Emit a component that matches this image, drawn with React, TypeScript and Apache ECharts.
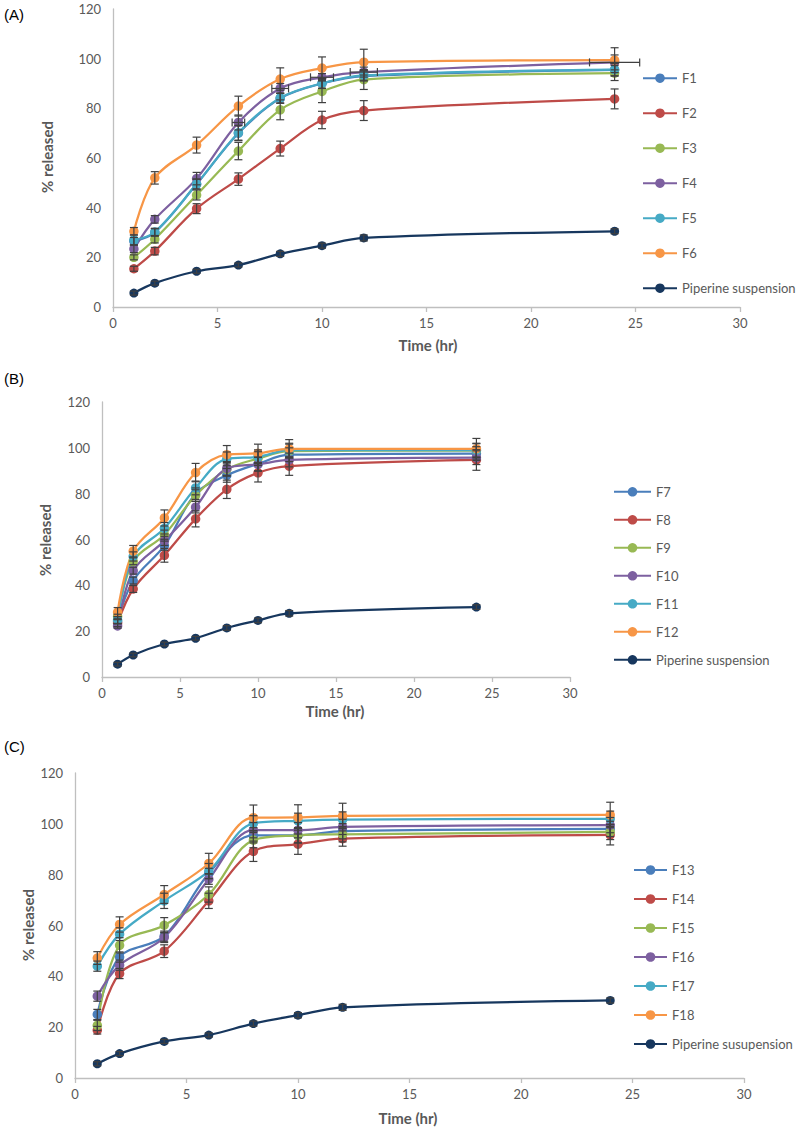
import React, { useEffect, useRef } from "react";
import * as echarts from "echarts";

const time = [1, 2, 4, 6, 8, 10, 12, 24];

// Panel A
const f1 = [26.5, 30.0, 49.5, 70.0, 84.0, 90.0, 93.0, 95.5];
const f2 = [15.4, 22.5, 39.6, 51.5, 63.8, 75.3, 79.1, 83.8];
const f3 = [20.0, 27.3, 45.1, 62.8, 79.4, 86.8, 91.6, 94.2];
const f4 = [23.4, 35.3, 51.7, 74.3, 88.0, 92.5, 94.6, 98.5];
const f5 = [27.0, 30.2, 49.5, 70.2, 84.2, 90.1, 93.3, 95.6];
const f6 = [30.5, 52.0, 65.2, 80.9, 91.8, 96.2, 98.6, 99.4];
const pipA = [5.6, 9.6, 14.4, 16.9, 21.4, 24.7, 27.8, 30.5];
const f1Err = [1.5, 1.5, 2, 3, 2, 2, 2, 2.5];
const f2Err = [1, 1.5, 2, 2.5, 3, 3.5, 4, 4];
const f3Err = [1, 1.5, 2, 3.5, 4, 4.5, 4, 3];
const f4Err = [1.5, 1.5, 2.5, 3, 2, 1.5, 2, 3];
const f4XErr = [0, 0, 0, 0.3, 0.4, 0.55, 0.65, 1.2];
const f5Err = [2, 1.5, 2, 3, 2, 2, 2, 2.5];
const f6Err = [1.5, 2.5, 3.2, 4, 4.5, 4.5, 5.2, 5];
const pipErr = [0.8, 0.8, 0.8, 0.8, 1, 1, 1.2, 1];

// Panel B
const f7 = [24.2, 42.1, 57.3, 80.0, 88.0, 93.0, 97.0, 97.5];
const f8 = [23.5, 38.4, 53.1, 69.0, 81.9, 89.1, 92.0, 94.7];
const f9 = [26.4, 50.5, 62.1, 79.2, 90.6, 95.3, 98.6, 98.8];
const f10 = [22.3, 46.4, 59.4, 74.1, 91.0, 92.8, 94.7, 95.7];
const f11 = [24.9, 52.6, 64.9, 82.5, 95.2, 96.1, 99.0, 99.0];
const f12 = [28.3, 54.9, 69.4, 89.2, 97.0, 97.6, 99.6, 99.6];
const pipB = [5.6, 9.6, 14.4, 16.9, 21.4, 24.7, 27.8, 30.5];
const f7Err = [1, 1.5, 2, 2.5, 3, 3, 3, 3];
const f8Err = [1.5, 1.5, 3, 3.5, 4, 4, 4, 4.5];
const f9Err = [1, 1.5, 2, 2.5, 3, 3, 3, 3];
const f10Err = [1, 1.5, 2, 2.5, 3, 3, 3, 3];
const f11Err = [1.5, 2, 2.5, 3, 3, 3, 3, 3];
const f12Err = [2, 2.5, 3.5, 4, 4, 4, 4, 4.5];

// Panel C
const f13 = [25.0, 47.6, 55.8, 80.5, 95.5, 95.5, 97.1, 98.0];
const f14 = [18.8, 41.1, 49.9, 69.7, 89.2, 92.0, 94.2, 95.7];
const f15 = [20.7, 52.2, 60.1, 72.2, 93.6, 95.5, 95.9, 96.8];
const f16 = [32.2, 44.4, 55.3, 78.2, 97.5, 97.5, 98.8, 99.5];
const f17 = [44.0, 56.6, 69.7, 81.4, 100.2, 101.2, 101.7, 102.0];
const f18 = [47.2, 60.4, 72.2, 84.4, 102.4, 102.5, 103.1, 103.5];
const pipC = [5.6, 9.6, 14.4, 16.9, 21.4, 24.7, 27.8, 30.5];
const f13Err = [2, 2, 2, 2, 3, 3, 3, 3];
const f14Err = [1.5, 2, 2.5, 3, 4, 4, 3, 4];
const f15Err = [2, 3, 3, 3, 3, 3, 3, 3];
const f16Err = [2, 2, 2, 2, 3, 3, 3, 3];
const f17Err = [2, 2.5, 3, 3, 3, 3, 3, 3];
const f18Err = [2.5, 3, 3.5, 4, 5, 5, 5, 5];

const namesA = ["F1", "F2", "F3", "F4", "F5", "F6", "Piperine suspension"];
const namesB = ["F7", "F8", "F9", "F10", "F11", "F12", "Piperine suspension"];
const namesC = ["F13", "F14", "F15", "F16", "F17", "F18", "Piperine susupension"];

const colors = ["#4A7EBB", "#BE4B48", "#98B954", "#7D60A0", "#46AAC5", "#F79646", "#17375E"];

const GRAY = "#595959";
const AXIS = "#BFBFBF";

type Panel = {
  names: string[];
  values: number[][];
  errs: number[][];
  xerrs: (number[] | null)[];
};

const panels: Panel[] = [
  {
    names: namesA,
    values: [f1, f2, f3, f4, f5, f6, pipA],
    errs: [f1Err, f2Err, f3Err, f4Err, f5Err, f6Err, pipErr],
    xerrs: [null, null, null, f4XErr, null, null, null],
  },
  {
    names: namesB,
    values: [f7, f8, f9, f10, f11, f12, pipB],
    errs: [f7Err, f8Err, f9Err, f10Err, f11Err, f12Err, pipErr],
    xerrs: [null, null, null, null, null, null, null],
  },
  {
    names: namesC,
    values: [f13, f14, f15, f16, f17, f18, pipC],
    errs: [f13Err, f14Err, f15Err, f16Err, f17Err, f18Err, pipErr],
    xerrs: [null, null, null, null, null, null, null],
  },
];

const grids = [
  { left: 113, top: 9, width: 627, height: 298 },
  { left: 102, top: 402, width: 468, height: 275 },
  { left: 75, top: 773, width: 669, height: 305 },
];

const legends = [
  { left: 637, top: 66.7, itemWidth: 34, itemGap: 22 },
  { left: 608, top: 480.3, itemWidth: 37, itemGap: 15 },
  { left: 628, top: 858.5, itemWidth: 33, itemGap: 16 },
];

const yTitles = [
  { x: 47, y: 157 },
  { x: 45, y: 540 },
  { x: 28, y: 925 },
];
const xTitles = [
  { x: 428, y: 345 },
  { x: 335, y: 711 },
  { x: 408, y: 1118 },
];
const panelLabels = [
  { t: "(A)", y: 14 },
  { t: "(B)", y: 378 },
  { t: "(C)", y: 746 },
];

function errRender(params: any, api: any) {
  const x = api.value(0);
  const y = api.value(1);
  const e = api.value(2);
  const ex = api.value(3);
  const style = { stroke: "#404040", lineWidth: 1.2 };
  const children: any[] = [];
  const cap = 4;
  if (e > 0) {
    const top = api.coord([x, y + e]);
    const bot = api.coord([x, y - e]);
    children.push({ type: "line", shape: { x1: top[0], y1: top[1], x2: bot[0], y2: bot[1] }, style });
    children.push({ type: "line", shape: { x1: top[0] - cap, y1: top[1], x2: top[0] + cap, y2: top[1] }, style });
    children.push({ type: "line", shape: { x1: bot[0] - cap, y1: bot[1], x2: bot[0] + cap, y2: bot[1] }, style });
  }
  if (ex > 0) {
    const l = api.coord([x - ex, y]);
    const r = api.coord([x + ex, y]);
    children.push({ type: "line", shape: { x1: l[0], y1: l[1], x2: r[0], y2: r[1] }, style });
    children.push({ type: "line", shape: { x1: l[0], y1: l[1] - cap, x2: l[0], y2: l[1] + cap }, style });
    children.push({ type: "line", shape: { x1: r[0], y1: r[1] - cap, x2: r[0], y2: r[1] + cap }, style });
  }
  return { type: "group", children };
}

export default function App() {
  const ref = useRef<HTMLDivElement>(null);
  useEffect(() => {
    document.body.style.margin = "0";
    if (!ref.current) return;
    const chart = echarts.init(ref.current, null, { renderer: "svg" });

    const series: any[] = [];
    panels.forEach((p, g) => {
      p.names.forEach((name, i) => {
        const isPip = i === 6;
        series.push({
          type: "line",
          name,
          xAxisIndex: g,
          yAxisIndex: g,
          data: time.map((t, k) => [t, p.values[i][k]]),
          smooth: 0.35,
          symbol: "circle",
          symbolSize: isPip ? 9 : 9.5,
          itemStyle: { color: colors[i] },
          lineStyle: { color: colors[i], width: 2.25 },
          z: 2,
        });
      });
      const errData: number[][] = [];
      p.names.forEach((_, i) => {
        time.forEach((t, k) => {
          const xe = p.xerrs[i] ? (p.xerrs[i] as number[])[k] : 0;
          errData.push([t, p.values[i][k], p.errs[i][k], xe]);
        });
      });
      series.push({
        type: "custom",
        name: "errors" + g,
        xAxisIndex: g,
        yAxisIndex: g,
        data: errData,
        encode: { x: 0, y: 1 },
        renderItem: errRender,
        silent: true,
        z: 3,
      });
    });

    const option: any = {
      animation: false,
      backgroundColor: "#ffffff",
      grid: grids.map((g) => ({ ...g, containLabel: false })),
      xAxis: grids.map((_, g) => ({
        type: "value",
        gridIndex: g,
        min: 0,
        max: 30,
        interval: 5,
        splitLine: { show: false },
        axisLine: { show: true, lineStyle: { color: AXIS, width: 1.3 } },
        axisTick: { show: true, length: 5, lineStyle: { color: AXIS, width: 1.3 } },
        axisLabel: { color: GRAY, fontSize: 13, fontFamily: "Lato", margin: 9 },
      })),
      yAxis: grids.map((_, g) => ({
        type: "value",
        gridIndex: g,
        min: 0,
        max: 120,
        interval: 20,
        splitLine: { show: false },
        axisLine: { show: true, lineStyle: { color: AXIS, width: 1.3 } },
        axisTick: { show: false },
        axisLabel: { color: GRAY, fontSize: 13, fontFamily: "Lato", margin: 12 },
      })),
      legend: panels.map((p, g) => ({
        orient: "vertical",
        left: legends[g].left,
        top: legends[g].top,
        itemWidth: legends[g].itemWidth,
        itemHeight: 12,
        itemGap: legends[g].itemGap,
        selectedMode: false,
        data: p.names,
        textStyle: { color: GRAY, fontSize: 13, fontFamily: "Lato" },
      })),
      graphic: [
        ...yTitles.map((t) => ({
          type: "text",
          x: t.x,
          y: t.y,
          rotation: Math.PI / 2,
          style: {
            text: "% released",
            fill: GRAY,
            font: "bold 15px Lato",
            align: "center",
            verticalAlign: "middle",
          },
        })),
        ...xTitles.map((t) => ({
          type: "text",
          x: t.x,
          y: t.y,
          style: {
            text: "Time (hr)",
            fill: GRAY,
            font: "bold 15px Lato",
            align: "center",
            verticalAlign: "middle",
          },
        })),
        ...panelLabels.map((l) => ({
          type: "text",
          x: 4,
          y: l.y,
          style: {
            text: l.t,
            fill: "#000000",
            font: "15px 'Liberation Sans'",
            align: "left",
            verticalAlign: "middle",
          },
        })),
      ],
      series,
    };
    chart.setOption(option);
    return () => chart.dispose();
  }, []);
  return <div ref={ref} style={{ width: 800, height: 1139 }} />;
}
